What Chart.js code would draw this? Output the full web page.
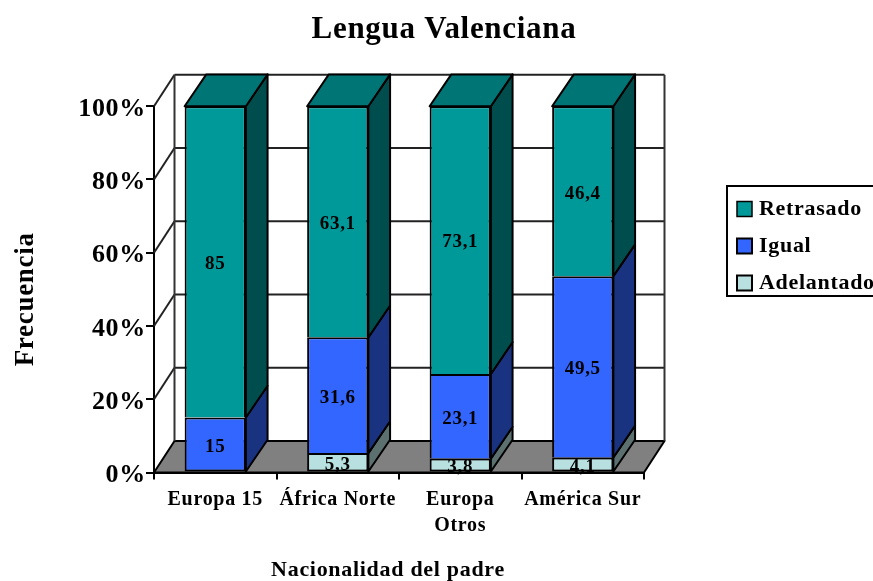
<!DOCTYPE html>
<html>
<head>
<meta charset="utf-8">
<style>html,body{margin:0;padding:0;background:#fff;overflow:hidden}canvas{display:block}</style>
<script src="https://cdn.jsdelivr.net/npm/chart.js@4"></script>
</head>
<body>
<canvas id="c" width="873" height="581"></canvas>
<script>
const categories = ["Europa 15", "África Norte", ["Europa", "Otros"], "América Sur"];
const adelantado = [0, 5.3, 3.8, 4.1];
const igual = [15, 31.6, 23.1, 49.5];
const retrasado = [85, 63.1, 73.1, 46.4];
const seriesNames = ["Adelantado", "Igual", "Retrasado"];
const frontColors = ["#B8E0E0", "#3366FF", "#009999"];
const sideColors = ["#5C7070", "#1A3380", "#004D4D"];
const topColors = ["#92B3B3", "#2952CC", "#007575"];
const chartTitle = "Lengua Valenciana";
const xTitle = "Nacionalidad del padre";
const yTitle = "Frecuencia";

const SERIF = '"Liberation Serif", "Times New Roman", serif';
const WALL = {dx: 20.5, dy: 31.5};
const BAR = {dx: 21.7, dy: 31.8};
const LINE = 2;

function poly(ctx, pts, fill, stroke, lw) {
  ctx.beginPath();
  pts.forEach((p, i) => i ? ctx.lineTo(p[0], p[1]) : ctx.moveTo(p[0], p[1]));
  ctx.closePath();
  if (fill) { ctx.fillStyle = fill; ctx.fill(); }
  if (stroke) { ctx.strokeStyle = stroke; ctx.lineWidth = lw; ctx.lineJoin = 'round'; ctx.stroke(); }
}
function seg(ctx, x1, y1, x2, y2, c, lw) {
  ctx.beginPath(); ctx.moveTo(x1, y1); ctx.lineTo(x2, y2);
  ctx.strokeStyle = c; ctx.lineWidth = lw; ctx.stroke();
}

const placement = {
  id: 'placement',
  afterLayout(chart) {
    const lg = chart.legend;
    lg.left = 741 - 15; lg.right = 900; lg.top = 183; lg.bottom = 500;
    chart.titleBlock.left = 15;
    chart.titleBlock.right = 873;
    const shift = (scale, dx, dy) => {
      if (scale._shifted) return;
      scale._shifted = true;
      const orig = scale.drawTitle;
      scale.drawTitle = function () {
        const ctx = this.ctx; ctx.save(); ctx.translate(dx, dy); orig.call(this); ctx.restore();
      };
    };
    shift(chart.scales.x, -11, 3);
    shift(chart.scales.y, 10, 10);
  },
  beforeDraw(chart) { chart.ctx.letterSpacing = '0.7px'; }
};

const depth = {
  id: 'depth',
  beforeDatasetsDraw(chart) {
    const ctx = chart.ctx, {left, right, top, bottom} = chart.chartArea, y = chart.scales.y;
    const d = WALL;
    ctx.save();
    poly(ctx, [[left, bottom], [left + d.dx, bottom - d.dy], [right + d.dx, bottom - d.dy], [right, bottom]], '#808080', '#000', LINE);
    y.ticks.forEach(t => {
      const py = y.getPixelForValue(t.value);
      if (t.value > 0) {
        seg(ctx, left, py, left + d.dx, py - d.dy, '#222', LINE);
        seg(ctx, left + d.dx, py - d.dy, right + d.dx, py - d.dy, '#222', LINE);
      }
    });
    seg(ctx, left + d.dx, top - d.dy, left + d.dx, bottom - d.dy, '#333', LINE);
    seg(ctx, right + d.dx, top - d.dy, right + d.dx, bottom - d.dy, '#333', LINE);
    chart.data.datasets.forEach((ds, i) => {
      chart.getDatasetMeta(i).data.forEach((b, j) => {
        if (!ds.data[j]) return;
        const r = b.x + b.width / 2, l = b.x - b.width / 2;
        poly(ctx, [[r, b.y], [r + BAR.dx, b.y - BAR.dy], [r + BAR.dx, b.base - BAR.dy], [r, b.base]], sideColors[i], '#000', LINE);
        if (i === chart.data.datasets.length - 1) {
          poly(ctx, [[l, b.y], [l + BAR.dx, b.y - BAR.dy], [r + BAR.dx, b.y - BAR.dy], [r, b.y]], topColors[i], '#000', LINE);
        }
      });
    });
    ctx.restore();
  },
  afterDatasetsDraw(chart) {
    const ctx = chart.ctx;
    ctx.save();
    ctx.fillStyle = '#000';
    ctx.font = 'bold 19px ' + SERIF;
    ctx.textAlign = 'center';
    ctx.textBaseline = 'middle';
    chart.data.datasets.forEach((ds, i) => {
      chart.getDatasetMeta(i).data.forEach((b, j) => {
        if (!ds.data[j]) return;
        ctx.fillText(String(ds.data[j]).replace('.', ','), b.x, (b.y + b.base) / 2 + 2.5);
      });
    });
    ctx.restore();
  },
  afterDraw(chart) {
    const ctx = chart.ctx;
    ctx.save();
    ctx.strokeStyle = '#000';
    ctx.lineWidth = 2;
    ctx.strokeRect(727, 186, 170, 110);
    ctx.restore();
  }
};

const seriesValues = [adelantado, igual, retrasado];
new Chart(document.getElementById('c'), {
  type: 'bar',
  data: {
    labels: categories,
    datasets: seriesValues.map((vals, i) => ({
      label: seriesNames[i],
      data: vals,
      backgroundColor: frontColors[i],
      borderColor: '#000',
      borderWidth: ctx => {
        const below = seriesValues.slice(0, i).reduce((s, a) => s + a[ctx.dataIndex], 0);
        return {top: LINE, left: LINE, right: LINE, bottom: below === 0 ? LINE : 0};
      },
      borderSkipped: false,
      barPercentage: 0.5,
      categoryPercentage: 1
    }))
  },
  options: {
    responsive: false,
    animation: false,
    layout: {padding: {top: 0, left: 0, right: 89, bottom: 0}},
    plugins: {
      tooltip: {enabled: false},
      title: {
        display: true, text: chartTitle, color: '#000',
        font: {family: SERIF, size: 31, weight: 'bold'},
        padding: {top: 11, bottom: 58}
      },
      legend: {
        position: 'right', align: 'start', reverse: true, maxWidth: 140,
        labels: {
          color: '#000', usePointStyle: true, pointStyle: 'rect', boxWidth: 7, boxHeight: 15, padding: 15,
          font: {family: SERIF, size: 22, weight: 'bold'}
        }
      }
    },
    scales: {
      x: {
        stacked: true,
        afterFit(s) { s.height = 108.5; },
        grid: {drawOnChartArea: false, drawTicks: true, tickLength: 7, color: '#000', lineWidth: LINE},
        border: {color: '#000', width: LINE},
        ticks: {color: '#000', autoSkip: false, maxRotation: 0, padding: 7,
          font: {family: SERIF, size: 20, weight: 'bold', lineHeight: 1.3}},
        title: {display: true, text: xTitle, color: '#000', padding: {top: 10, bottom: 0},
          font: {family: SERIF, size: 22, weight: 'bold'}}
      },
      y: {
        stacked: true, min: 0, max: 100,
        afterFit(s) { s.width = 154; },
        grid: {drawOnChartArea: false, drawTicks: true, tickLength: 8, color: '#000', lineWidth: LINE},
        border: {color: '#000', width: LINE},
        ticks: {color: '#000', stepSize: 20, padding: 0, labelOffset: 3, callback: v => v + '%',
          font: {family: SERIF, size: 26, weight: 'bold'}},
        title: {display: true, text: yTitle, color: '#000', padding: {top: 0, bottom: 0},
          font: {family: SERIF, size: 27, weight: 'bold'}}
      }
    }
  },
  plugins: [placement, depth]
});
</script>
</body>
</html>
